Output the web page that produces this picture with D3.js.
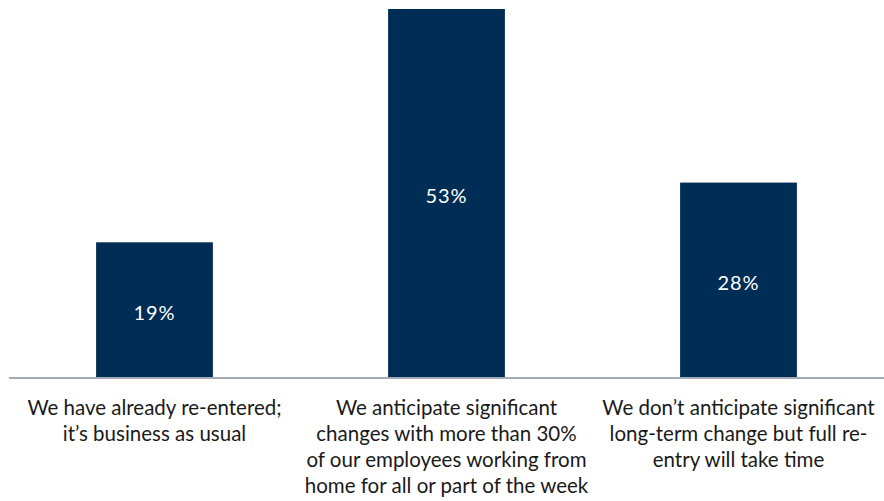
<!DOCTYPE html>
<html><head><meta charset="utf-8">
<script src="https://cdn.jsdelivr.net/npm/d3@7"></script>
<style>body{margin:0;background:#fff}svg{display:block}</style>
</head><body>
<svg id="c" width="884" height="501"></svg>
<script>
const categories = [
  ["We have already re-entered;", "it’s business as usual"],
  ["We anticipate significant", "changes with more than 30%", "of our employees working from", "home for all or part of the week"],
  ["We don’t anticipate significant", "long-term change but full re-", "entry will take time"]
];
const values = [19.4, 53, 28];
const valueLabels = ["19%", "53%", "28%"];

const svg = d3.select("#c");
const base = 377;
const x = d3.scaleBand().domain(d3.range(values.length)).range([8.5, 884.5]).paddingInner(0.6).paddingOuter(0.3);
const y = d3.scaleLinear().domain([0, 53]).range([base, 9]);
const font = "Lato, 'Open Sans', sans-serif";

svg.selectAll("rect.bar").data(values).join("rect").attr("class","bar")
  .attr("x",(d,i)=>x(i)).attr("width",x.bandwidth())
  .attr("y",d=>y(d)).attr("height",d=>base-y(d)).attr("fill","#002d56");

svg.append("line").attr("x1",9).attr("x2",884).attr("y1",base+1).attr("y2",base+1)
  .attr("stroke","#a3abb7").attr("stroke-width",2);

svg.selectAll("text.val").data(values).join("text").attr("class","val")
  .attr("x",(d,i)=>x(i)+x.bandwidth()/2).attr("y",d=>(y(d)+base)/2+10)
  .attr("text-anchor","middle").attr("fill","#fff").attr("font-family",font)
  .attr("font-size",20).attr("letter-spacing",1).text((d,i)=>valueLabels[i]);

const cat = svg.selectAll("text.cat").data(categories).join("text").attr("class","cat")
  .attr("text-anchor","middle").attr("fill","#1a1a1a").attr("font-family",font).attr("font-size",20.5);
cat.each(function(lines,i){
  d3.select(this).selectAll("tspan").data(lines).join("tspan")
    .attr("x",x(i)+x.bandwidth()/2).attr("y",(d,j)=>415+j*26).text(d=>d);
});
</script>
</body></html>
